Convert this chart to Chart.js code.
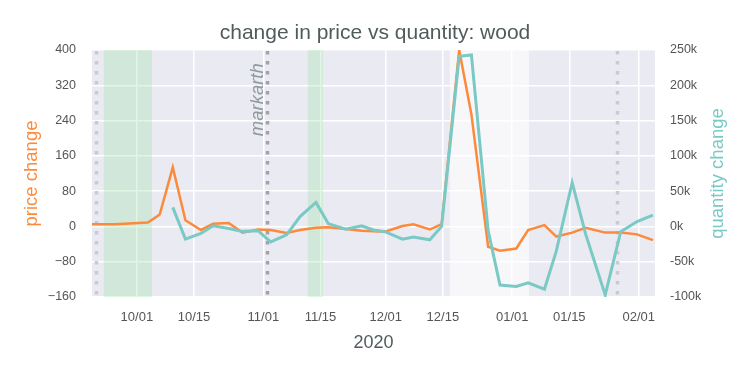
<!DOCTYPE html>
<html>
<head>
<meta charset="utf-8">
<script src="https://cdn.jsdelivr.net/npm/chart.js@4.4.1/dist/chart.umd.min.js"></script>
<style>
  html, body { margin: 0; padding: 0; background: #ffffff; }
  canvas { display: block; }
</style>
</head>
<body>
<canvas id="c" width="750" height="375"></canvas>
<script>
// ---- data (x = days since 10/01) ----
const days = [-11, -5.4, 2.7, 5.6, 8.8, 11.9, 15.7, 18.7, 22.5, 25.9, 29.7, 32.8, 36.7, 40.0, 43.9, 46.9, 51.2, 55.1, 58.0, 60.8, 65.1, 67.8, 71.8, 74.7, 79.0, 82.0, 86.1, 89.0, 93.0, 95.9, 99.9, 102.8, 106.7, 110.0, 114.8, 118.6, 122.6, 126.5];
const priceChange = [5, 5, 9, 27, 134, 14, -8, 6, 8, -14, -7, -8, -15, -8, -3, -2, -6, -10, -11, -12, 1, 5, -7, 5, 400, 254, -46, -55, -50, -8, 3, -23, -14, -3, -14, -14, -18, -31];
const quantityChangeK = [null, null, null, null, 27, -18, -10, 1, -3, -7, -6, -22, -12, 14, 34, 4, -4, 1, -5, -7.5, -18, -15, -19, 0, 241, 243, -6, -83, -85, -80, -89, -35, 62, -11, -97, -7.5, 7, 16];
const tickDays = [0, 14, 31, 45, 61, 75, 92, 106, 123];
const tickLabels = ['10/01', '10/15', '11/01', '11/15', '12/01', '12/15', '01/01', '01/15', '02/01'];
const greenSpans = [[-8.1, 3.7], [41.9, 45.6]];
const lightSpans = [[76.7, 96.1]];
const eventDays = [-10, 31.85, 117.7];
const eventLabels = ['', 'markarth', ''];

const ORANGE = '#fd8a3b';
const TEAL = '#7bc9c5';
const FONT = '"Liberation Sans", Arial, Helvetica, sans-serif';
Chart.defaults.font.family = FONT;

const decorPlugin = {
  id: 'decor',
  beforeDraw(chart) {
    const {ctx, chartArea: a} = chart;
    ctx.save();
    ctx.fillStyle = '#ffffff';
    ctx.fillRect(0, 0, chart.width, chart.height);
    ctx.fillStyle = '#eaeaf2';
    ctx.fillRect(a.left, a.top, a.right - a.left, a.bottom - a.top);
    ctx.restore();
  },
  beforeDatasetsDraw(chart) {
    const {ctx, chartArea: a} = chart;
    const xs = chart.scales.x, ys = chart.scales.y;
    ctx.save();
    ctx.beginPath();
    ctx.rect(a.left, a.top, a.right - a.left, a.bottom - a.top);
    ctx.clip();
    ctx.fillStyle = 'rgba(255,255,255,0.62)';
    lightSpans.forEach(([s, e]) => {
      const x0 = xs.getPixelForValue(s), x1 = xs.getPixelForValue(e);
      ctx.fillRect(x0, a.top, x1 - x0, a.bottom - a.top);
    });
    ctx.fillStyle = 'rgba(150,225,160,0.30)';
    greenSpans.forEach(([s, e]) => {
      const x0 = xs.getPixelForValue(s), x1 = xs.getPixelForValue(e);
      ctx.fillRect(x0, a.top, x1 - x0, a.bottom - a.top);
    });
    eventDays.forEach((d, i) => {
      const x = Math.round(xs.getPixelForValue(d)) + 0.5;
      ctx.strokeStyle = eventLabels[i] ? '#a2a2a8' : '#c9c9d2';
      ctx.lineWidth = 3.5;
      ctx.setLineDash([3.5, 6.5]);
      ctx.beginPath();
      ctx.moveTo(x, a.top + 1);
      ctx.lineTo(x, a.bottom);
      ctx.stroke();
      if (eventLabels[i]) {
        ctx.save();
        ctx.setLineDash([]);
        ctx.translate(x - 5, ys.getPixelForValue(370));
        ctx.rotate(-Math.PI / 2);
        ctx.font = 'italic 18.5px ' + FONT;
        ctx.fillStyle = '#919a9a';
        ctx.textAlign = 'right';
        ctx.textBaseline = 'alphabetic';
        ctx.fillText(eventLabels[i], 0, 0);
        ctx.restore();
      }
    });
    ctx.restore();
  },
  afterDraw(chart) {
    const {ctx} = chart;
    const y2 = chart.scales.y2;
    ctx.save();
    ctx.translate(717.5, (y2.top + y2.bottom) / 2);
    ctx.rotate(-Math.PI / 2);
    ctx.font = '18.5px ' + FONT;
    ctx.fillStyle = TEAL;
    ctx.textAlign = 'center';
    ctx.textBaseline = 'middle';
    ctx.fillText('quantity change', 0, 0);
    ctx.restore();
  }
};

new Chart(document.getElementById('c'), {
  type: 'line',
  data: {
    datasets: [
      {
        label: 'quantity change',
        data: days.map((d, i) => ({x: d, y: quantityChangeK[i]})),
        yAxisID: 'y2',
        borderColor: TEAL,
        borderWidth: 3,
        pointRadius: 0,
        tension: 0,
        order: 0
      },
      {
        label: 'price change',
        data: days.map((d, i) => ({x: d, y: priceChange[i]})),
        yAxisID: 'y',
        borderColor: ORANGE,
        borderWidth: 2.5,
        pointRadius: 0,
        tension: 0,
        order: 1
      }
    ]
  },
  options: {
    responsive: false,
    animation: false,
    devicePixelRatio: 1,
    layout: { padding: 0 },
    plugins: {
      legend: { display: false },
      tooltip: { enabled: false },
      title: {
        display: true,
        text: 'change in price vs quantity: wood',
        color: '#505c5c',
        font: { size: 21, weight: 'normal', family: FONT },
        padding: { top: 21, bottom: 3.8 }
      }
    },
    scales: {
      x: {
        type: 'linear',
        min: -11,
        max: 127,
        afterBuildTicks: (s) => { s.ticks = tickDays.map(v => ({value: v})); },
        afterFit: (s) => { s.height = 78; },
        ticks: {
          autoSkip: false,
          maxRotation: 0,
          padding: 13,
          color: '#555555',
          font: { size: 13 },
          callback: (v) => tickLabels[tickDays.indexOf(v)]
        },
        grid: { color: '#ffffff', lineWidth: 1.5, drawTicks: false },
        border: { display: false },
        title: {
          display: true,
          text: '2020',
          color: '#505c5c',
          font: { size: 18 },
          padding: { top: 0, bottom: 21 }
        }
      },
      y: {
        position: 'left',
        min: -160,
        max: 400,
        afterFit: (s) => { s.width = 92; },
        ticks: {
          stepSize: 80,
          padding: 16,
          color: '#555555',
          font: { size: 12.5 },
          callback: (v) => String(v).replace('-', '\u2212')
        },
        grid: { color: '#ffffff', lineWidth: 1.5, drawTicks: false },
        border: { display: false },
        title: {
          display: true,
          text: 'price change',
          color: ORANGE,
          font: { size: 18.5 },
          padding: { top: 21, bottom: 0 }
        }
      },
      y2: {
        position: 'right',
        min: -100,
        max: 250,
        afterFit: (s) => { s.width = 95; },
        ticks: {
          stepSize: 50,
          padding: 15,
          color: '#555555',
          font: { size: 12.5 },
          callback: (v) => v + 'k'
        },
        grid: { display: false, drawTicks: false },
        border: { display: false },
        title: { display: false }
      }
    }
  },
  plugins: [decorPlugin]
});
</script>
</body>
</html>
